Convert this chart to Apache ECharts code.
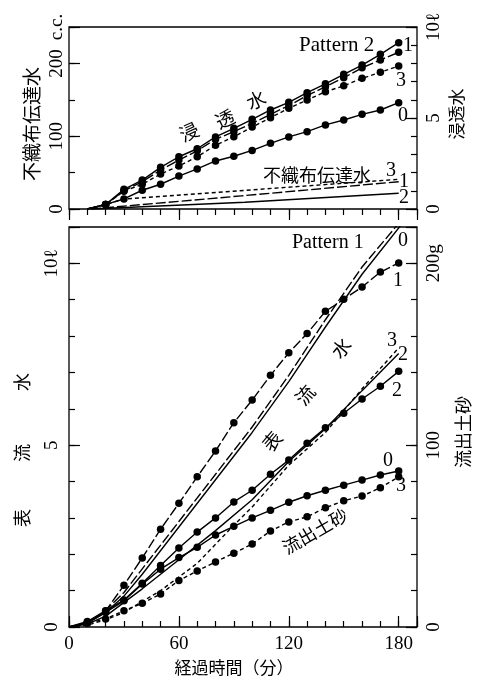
<!DOCTYPE html>
<html><head><meta charset="utf-8">
<script src="https://cdn.jsdelivr.net/npm/echarts@6/dist/echarts.min.js"></script>
<style>html,body{margin:0;padding:0;background:#fff}#c{width:477px;height:676px}</style>
</head><body><div id="c"></div>
<script>
// ---------- DATA ----------
// Top panel (Pattern 2): 浸透水 (ℓ, right axis), sampled every 10 min from 10 to 180
const seepTimes = [10,20,30,40,50,60,70,80,90,100,110,120,130,140,150,160,170,180];
const seep1 = [0,0.25,1.08,1.59,2.29,2.87,3.31,3.96,4.43,4.93,5.44,5.86,6.39,6.88,7.40,7.91,8.50,9.14];
const seep2 = [0,0.25,1.00,1.50,2.14,2.69,3.20,3.83,4.25,4.70,5.20,5.68,6.23,6.72,7.21,7.76,8.19,8.61];
const seep3 = [0,0.25,0.98,1.36,1.92,2.36,2.87,3.50,3.97,4.50,5.02,5.53,5.99,6.44,6.77,7.18,7.51,7.86];
const seep0 = [0,0.25,0.55,1.03,1.36,1.81,2.20,2.64,2.90,3.22,3.61,3.96,4.25,4.62,4.89,5.20,5.44,5.84];
// 不織布伝達水 (c.c., left axis)
const fab3Times = [10,20,30,180];   const fab3 = [0,6,13.7,40.8];
const fab1Times = [12,94,180];      const fab1 = [0,18,37.5];
const fab2Times = [12,96,180];      const fab2 = [0,9.3,21.6];

// Bottom panel (Pattern 1): 流出土砂 (g, right axis), every 10 min from 0 to 180
const sedTimes = [0,10,20,30,40,50,60,70,80,90,100,110,120,130,140,150,160,170,180];
const sed1 = [0,2.4,8.8,23,38,53.8,68,82.6,96.8,112.4,124.8,138.4,150.8,161.4,173.6,180.2,187,195.2,200.2];
const sed2 = [0,3,9,14.8,24,33.8,43.4,52.2,60,68.8,75.2,84,91.8,101,109.6,117.6,125.4,132.4,140.6];
const sed0 = [0,2.4,8,14.4,23.6,31.8,38.2,43.8,50.6,55.4,60,64.2,68.6,72.2,75.2,78,80.8,83.6,85.8];
const sed3 = [0,2,4.4,9,13,18.2,25.6,30.8,35.8,40.6,45.6,52.8,57.8,60.6,65.6,69.4,72,76.6,82.6];
// 表流水 (ℓ, left axis)
const flow0Times = [0,10,20,30,40,60,80,100,120,140,160,182];
const flow0 = [0,0.1,0.4,0.85,1.45,2.75,4.05,5.35,6.75,8.25,9.7,11.1];
const flow1Times = [0,10,20,30,40,60,80,100,120,140,160,180];
const flow1 = [0,0.1,0.45,0.95,1.6,2.9,4.2,5.5,6.92,8.45,9.9,11.1];
const flow2Times = [0,10,20,40,60,80,100,120,140,160,180];
const flow2 = [0,0.08,0.3,1.05,1.85,2.65,3.5,4.55,5.45,6.5,7.52];
const flow3Times = [0,10,20,30,50,70,90,100,120,140,160,179];
const flow3 = [0,0.05,0.2,0.4,1.0,1.75,2.8,3.3,4.45,5.35,6.55,7.62];

// ---------- CHART ----------
const SERIF = '"Liberation Serif","DejaVu Serif",serif';
const CJK = '"Noto Sans CJK JP",sans-serif';
const LONG = [10,3], SHORT = [4,3];

function pairs(ts, vs, dotsFromSecond) {
  return ts.map((t,i) => (dotsFromSecond && i === 0) ? {value:[t,vs[i]], symbol:'none'} : [t,vs[i]]);
}
function ser(ts, vs, xi, yi, type, dots) {
  return {
    type:'line', xAxisIndex:xi, yAxisIndex:yi, data:pairs(ts, vs, dots),
    symbol: dots ? 'circle' : 'none', symbolSize:7.5, showSymbol:!!dots,
    itemStyle:{color:'#000'}, lineStyle:{color:'#000', width:1.4, type:type},
    animation:false, silent:true, z:3
  };
}
function yax(grid, pos, max, interval, len, fmt, margin) {
  return {
    type:'value', gridIndex:grid, position:pos, min:0, max:max, interval:interval,
    axisLine:{show:false}, splitLine:{show:false},
    axisTick:{show:true, inside:true, length:len, lineStyle:{color:'#000', width:1.2}},
    axisLabel:{show:!!fmt, formatter:fmt, rotate:90, margin:margin||4, color:'#000',
      fontFamily:SERIF, fontSize:19, showMinLabel:true, showMaxLabel:true}
  };
}
function xax(grid, pos, interval, len, fmt) {
  return {
    type:'value', gridIndex:grid, position:pos, min:0, max:190, interval:interval,
    axisLine:{show:false}, splitLine:{show:false},
    axisTick:{show:true, inside:true, length:len, lineStyle:{color:'#000', width:1.2}},
    axisLabel:{show:!!fmt, formatter:fmt, margin:8, color:'#000', fontFamily:SERIF, fontSize:19}
  };
}
function txt(text, x, y, size, font, rot, align) {
  return {type:'text', x:x, y:y, rotation:(rot||0)*Math.PI/180, z:10,
    style:{text:text, fill:'#000', fontSize:size, fontFamily:font, align:align||'center', verticalAlign:'middle'}};
}

const chart = echarts.init(document.getElementById('c'), null, {renderer:'canvas'});
chart.setOption({
  backgroundColor:'#fff',
  animation:false,
  grid:[
    {left:69, top:27, width:348, height:182, show:true, borderColor:'#000', borderWidth:1.3, backgroundColor:'transparent'},
    {left:69, top:227, width:348, height:400, show:true, borderColor:'#000', borderWidth:1.3, backgroundColor:'transparent'}
  ],
  xAxis:[
    xax(0,'top',10,6,null),
    xax(0,'top',60,11,null),
    xax(1,'bottom',10,6,null),
    xax(1,'bottom',60,11, v => v <= 180 ? String(v) : '')
  ],
  yAxis:[
    yax(0,'left',250,50,6,null),
    yax(0,'left',250,100,11, v => v === 250 ? 'c.c.' : String(v), 2),
    yax(0,'right',10,1,6,null),
    yax(0,'right',10,5,11, v => v === 10 ? '10ℓ' : String(v), 8),
    yax(1,'left',11,1,6,null),
    yax(1,'left',11,5,11, v => v === 10 ? '10ℓ' : (v > 10 ? '' : String(v)), 7),
    yax(1,'right',220,20,6,null),
    yax(1,'right',220,100,11, v => v === 200 ? '200g' : (v > 200 ? '' : String(v)), 8)
  ],
  series:[
    ser(seepTimes, seep1, 0, 3, 'solid', true),
    ser(seepTimes, seep2, 0, 3, LONG, true),
    ser(seepTimes, seep3, 0, 3, SHORT, true),
    ser(seepTimes, seep0, 0, 3, 'solid', true),
    ser(fab3Times, fab3, 0, 1, SHORT, false),
    ser(fab1Times, fab1, 0, 1, LONG, false),
    ser(fab2Times, fab2, 0, 1, 'solid', false),
    ser(sedTimes, sed1, 2, 7, LONG, true),
    ser(sedTimes, sed2, 2, 7, 'solid', true),
    ser(sedTimes, sed0, 2, 7, 'solid', true),
    ser(sedTimes, sed3, 2, 7, SHORT, true),
    ser(flow0Times, flow0, 2, 5, 'solid', false),
    ser(flow1Times, flow1, 2, 5, LONG, false),
    ser(flow2Times, flow2, 2, 5, 'solid', false),
    ser(flow3Times, flow3, 2, 5, SHORT, false)
  ],
  graphic:[
    // axis titles
    txt('不織布伝達水', 32, 124, 19, CJK, 90),
    txt('浸透水', 457, 114, 17, CJK, 90),
    txt('水', 22, 382, 18, CJK, 90),
    txt('流', 22, 453, 18, CJK, 90),
    txt('表', 22, 518, 18, CJK, 90),
    txt('流出土砂', 463, 432, 18, CJK, 90),
    txt('経過時間（分）', 234, 668, 17, CJK, 0),
    // top panel annotations
    txt('Pattern 2', 299, 45, 21, SERIF, 0, 'left'),
    txt('1', 408, 46, 20, SERIF),
    txt('3', 401, 81, 20, SERIF),
    txt('0', 403, 116, 20, SERIF),
    txt('浸', 189, 132, 19, CJK, 25),
    txt('透', 225, 119, 19, CJK, 25),
    txt('水', 256, 100, 19, CJK, 25),
    txt('不織布伝達水', 317, 175, 18, CJK, 0),
    txt('3', 391, 171, 20, SERIF),
    txt('1', 404, 182, 20, SERIF),
    txt('2', 404, 198, 20, SERIF),
    // bottom panel annotations
    txt('Pattern 1', 292, 243, 20, SERIF, 0, 'left'),
    txt('0', 403, 241, 20, SERIF),
    txt('1', 398, 281, 20, SERIF),
    txt('3', 392, 341, 20, SERIF),
    txt('2', 403, 355, 20, SERIF),
    txt('2', 397, 391, 20, SERIF),
    txt('表', 272, 441, 19, CJK, 50),
    txt('流', 305, 395, 19, CJK, 50),
    txt('水', 341, 348, 19, CJK, 50),
    txt('0', 388, 461, 20, SERIF),
    txt('3', 401, 486, 20, SERIF),
    txt('流出土砂', 315, 531, 18, CJK, 30)
  ]
});
</script></body></html>
